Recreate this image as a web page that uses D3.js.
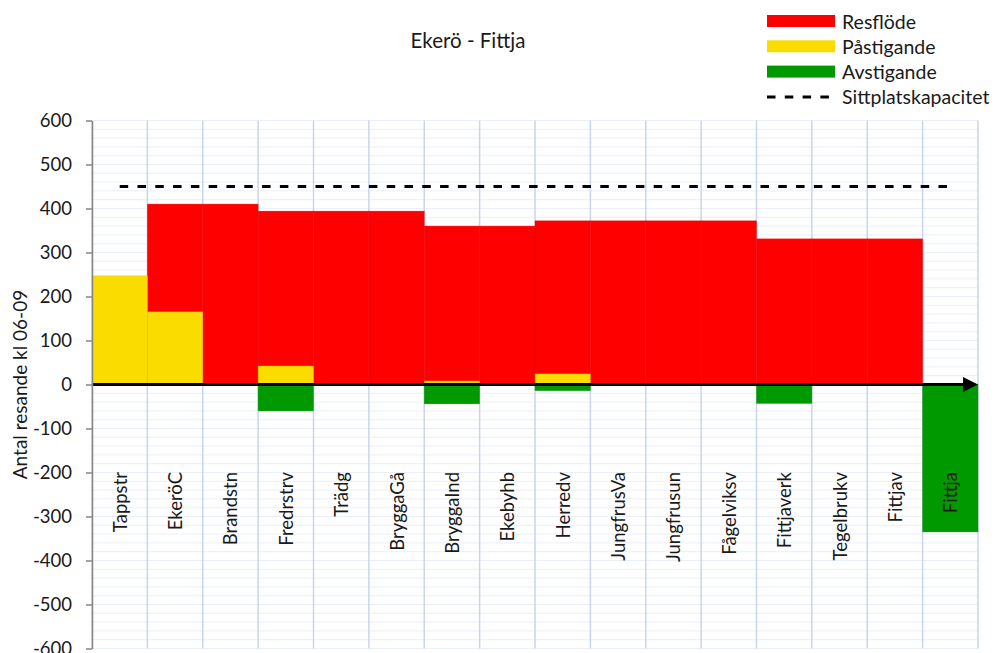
<!DOCTYPE html>
<html>
<head>
<meta charset="utf-8">
<script src="https://cdn.jsdelivr.net/npm/d3@7/dist/d3.min.js"></script>
<style>
  html, body { margin: 0; padding: 0; background: #fff; }
  svg { display: block; }
  text { font-family: Lato, "Open Sans", sans-serif; fill: #1a1a1a; }
</style>
</head>
<body>
<svg id="chart" width="995" height="653"></svg>
<script>
// Hållplatser längs linjen
const categories = ["Tappstr", "EkeröC", "Brandstn", "Fredrstrv", "Trädg", "BryggaGå", "BryggaInd", "Ekebyhb",
  "Herredv", "JungfrusVa", "Jungfrusun", "Fågelviksv", "Fittjaverk", "Tegelbrukv", "Fittjav", "Fittja"];

// Resenärer i fordonet efter hållplatsen
const resflode = [0, 410, 410, 394, 394, 394, 360, 360, 372, 372, 372, 372, 331, 331, 331, 0];
// Påstigande per hållplats
const pastigande = [247, 165, 0, 42, 0, 0, 8, 0, 24, 0, 0, 0, 0, 1, 0, 0];
// Avstigande per hållplats (negativa)
const avstigande = [0, 0, 0, -60, 0, 0, -44, 0, -14, 0, 0, 0, -43, 0, 0, -335];
// Sittplatskapacitet
const sittplatskapacitet = [450, 450, 450, 450, 450, 450, 450, 450, 450, 450, 450, 450, 450, 450, 450, 450];

const yTicks = [600, 500, 400, 300, 200, 100, 0, -100, -200, -300, -400, -500, -600];
const yMinor = d3.range(-600, 601, 20);

const legendItems = [
  { name: "Resflöde", color: "#ff0000", type: "bar" },
  { name: "Påstigande", color: "#fadc00", type: "bar" },
  { name: "Avstigande", color: "#009900", type: "bar" },
  { name: "Sittplatskapacitet", color: "#000", type: "line" }
];

const svg = d3.select("#chart");

const x = d3.scaleBand().domain(categories).range([92, 978]).padding(0);
const y = d3.scaleLinear().domain([-600, 600]).range([648.5, 120.5]);
const bw = x.bandwidth();

// Rutnät
const grid = svg.append("g");
grid.selectAll("line.h").data(yMinor).join("line")
  .attr("x1", x.range()[0]).attr("x2", x.range()[1])
  .attr("y1", d => y(d)).attr("y2", d => y(d))
  .attr("stroke", "#eaeff8").attr("stroke-width", 1);
const bounds = categories.map(c => x(c) + bw).concat([x.range()[0]]);
grid.selectAll("line.v").data(bounds).join("line")
  .attr("x1", d => d).attr("x2", d => d)
  .attr("y1", y(600)).attr("y2", y(-600))
  .attr("stroke", "#c9d5ee").attr("stroke-width", 1.5);

// Staplar
function bars(values, color) {
  svg.append("g").selectAll("rect")
    .data(categories.map((c, i) => ({ c, v: values[i] })).filter(d => d.v !== 0))
    .join("rect")
    .attr("x", d => x(d.c))
    .attr("width", bw)
    .attr("y", d => y(Math.max(0, d.v)))
    .attr("height", d => Math.abs(y(d.v) - y(0)))
    .attr("fill", color)
    .attr("stroke", d3.color(color).darker(0.25))
    .attr("stroke-width", 0.6)
    .attr("stroke-opacity", 0.6);
}
bars(resflode, "#ff0000");
bars(pastigande, "#fadc00");
bars(avstigande, "#009900");

// Nollinje med pil
const x0 = x.range()[0], x1 = x.range()[1], yz = y(0);
svg.append("line")
  .attr("x1", x0).attr("x2", x1 - 12)
  .attr("y1", yz).attr("y2", yz)
  .attr("stroke", "#000").attr("stroke-width", 3);
svg.append("path")
  .attr("d", `M${x1},${yz} L${x1 - 15},${yz - 7.5} L${x1 - 15},${yz + 7.5} Z`)
  .attr("fill", "#000");

// Sittplatskapacitet
const line = d3.line()
  .x((d, i) => x(categories[i]) + bw / 2)
  .y(d => y(d));
svg.append("path")
  .datum(sittplatskapacitet)
  .attr("d", line)
  .attr("fill", "none")
  .attr("stroke", "#000")
  .attr("stroke-width", 3)
  .attr("stroke-dasharray", "8.5,9.3");

// Y-axel
const yAxis = svg.append("g")
  .attr("transform", `translate(${x0},0)`)
  .call(d3.axisLeft(y).tickValues(yTicks).tickFormat(d => String(d))
    .tickSize(6).tickPadding(14).tickSizeOuter(0));
yAxis.select(".domain").attr("stroke", "#868686").attr("stroke-width", 1.5);
yAxis.selectAll(".tick line").attr("stroke", "#868686").attr("stroke-width", 1.5);
yAxis.selectAll(".tick text")
  .style("font-family", "Lato, sans-serif")
  .style("font-size", "18.5px")
  .attr("fill", "#1a1a1a");

svg.append("text")
  .attr("transform", `translate(19,${(y(600) + y(-600)) / 2}) rotate(-90)`)
  .attr("text-anchor", "middle")
  .attr("dominant-baseline", "central")
  .style("font-size", "19px")
  .text("Antal resande kl 06-09");

// Hållplatsnamn
svg.append("g").selectAll("text")
  .data(categories).join("text")
  .attr("transform", c => `translate(${x(c) + bw / 2},472) rotate(-90)`)
  .attr("text-anchor", "end")
  .attr("dominant-baseline", "central")
  .style("font-size", "18.5px")
  .text(c => c);

// Rubrik
svg.append("text")
  .attr("x", 468).attr("y", 40)
  .attr("text-anchor", "middle")
  .attr("dominant-baseline", "central")
  .style("font-size", "20.5px")
  .text("Ekerö - Fittja");

// Teckenförklaring
const lg = svg.append("g");
legendItems.forEach((d, i) => {
  const cy = 21 + i * 25.3;
  if (d.type === "bar") {
    lg.append("rect").attr("x", 767).attr("y", cy - 6).attr("width", 68).attr("height", 12).attr("fill", d.color);
  } else {
    lg.append("line").attr("x1", 767).attr("x2", 829).attr("y1", cy).attr("y2", cy)
      .attr("stroke", d.color).attr("stroke-width", 3).attr("stroke-dasharray", "8.5,9.3");
  }
  lg.append("text").attr("x", 842).attr("y", cy)
    .attr("dominant-baseline", "central")
    .style("font-size", "19.5px")
    .text(d.name);
});
</script>
</body>
</html>
